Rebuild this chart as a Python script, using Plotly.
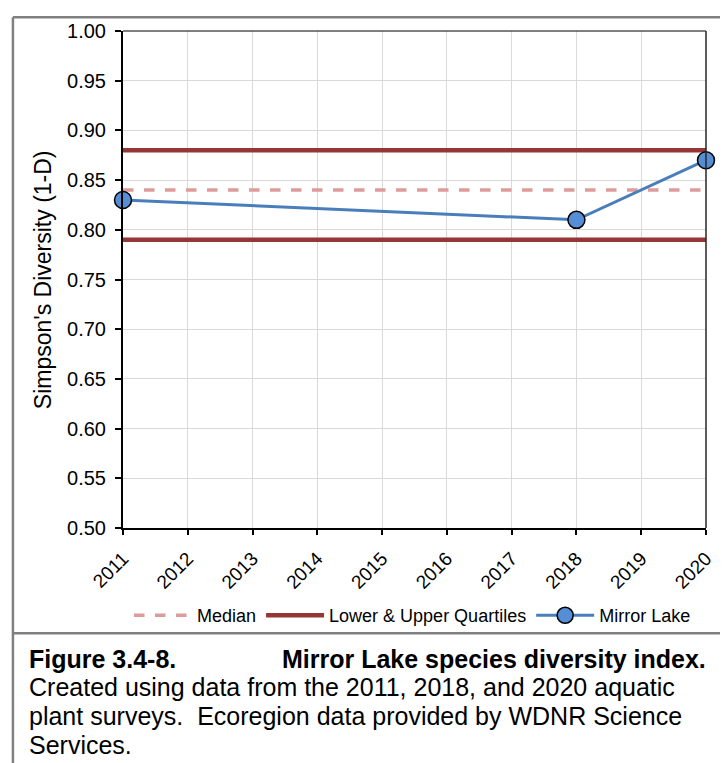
import plotly.graph_objects as go

# ---- data ----
years = [2011, 2012, 2013, 2014, 2015, 2016, 2017, 2018, 2019, 2020]
tick_labels = [str(y) for y in years]
lake_years = [2011, 2018, 2020]
lake_values = [0.83, 0.81, 0.87]
median_value = 0.84
lower_quartile = 0.79
upper_quartile = 0.88
y_ticks = [0.50, 0.55, 0.60, 0.65, 0.70, 0.75, 0.80, 0.85, 0.90, 0.95, 1.00]

FONT = "Liberation Sans, Arial, sans-serif"
OFF = 8  # page body margin
W, H = 728 - OFF, 763 - OFF
# plot area in screenshot pixels
SL, SR, ST, SB = 123, 711, 23, 528
PL, PR, PT, PB = SL - OFF, SR - OFF, ST - OFF, SB - OFF


def px(x):
    return (x - OFF - PL) / (PR - PL)


def py(y):
    return (PB - (y - OFF)) / (PB - PT)


fig = go.Figure()

fig.add_trace(go.Scatter(
    x=[years[0], years[-1]], y=[median_value, median_value], mode="lines",
    name="Median", line=dict(color="#dd9c9b", width=3.5, dash="dash"),
))
fig.add_trace(go.Scatter(
    x=[years[0], years[-1]], y=[lower_quartile, lower_quartile], mode="lines",
    name="Lower & Upper Quartiles", line=dict(color="#953735", width=4.5),
    legendgroup="q",
))
fig.add_trace(go.Scatter(
    x=[years[0], years[-1]], y=[upper_quartile, upper_quartile], mode="lines",
    name="Lower & Upper Quartiles", line=dict(color="#953735", width=4.5),
    legendgroup="q", showlegend=False,
))
fig.add_trace(go.Scatter(
    x=lake_years, y=lake_values, mode="lines+markers", name="Mirror Lake",
    line=dict(color="#4a7ebb", width=3),
    marker=dict(size=17, color="#558ed5", line=dict(color="black", width=1.5)),
    cliponaxis=False,
))

shapes = []
gray = "#808080"
# outer chart border and caption box
shapes.append(dict(type="line", xref="paper", yref="paper", x0=px(12), x1=px(740), y0=py(9), y1=py(9),
                   line=dict(color=gray, width=2.5)))
shapes.append(dict(type="line", xref="paper", yref="paper", x0=px(12), x1=px(12), y0=py(9), y1=py(775),
                   line=dict(color=gray, width=2.5)))
shapes.append(dict(type="line", xref="paper", yref="paper", x0=px(12), x1=px(740), y0=py(635), y1=py(635),
                   line=dict(color=gray, width=2.5)))
# top and right frame of plot area
shapes.append(dict(type="line", xref="paper", yref="paper", x0=0, x1=1, y0=1, y1=1,
                   line=dict(color="black", width=1)))
shapes.append(dict(type="line", xref="paper", yref="paper", x0=1, x1=1, y0=0, y1=1,
                   line=dict(color="#262626", width=1.5)))

annotations = []
annotations.append(dict(
    text="Simpson's Diversity (1-D)", textangle=-90, xref="paper", yref="paper",
    x=px(42), y=0.5, xanchor="center", yanchor="middle", showarrow=False,
    font=dict(family=FONT, size=23, color="black"),
))
cap_font = dict(family=FONT, size=25, color="black")
annotations.append(dict(text="<b>Figure 3.4-8.</b>", xref="paper", yref="paper", x=px(26), y=py(661),
                        xanchor="left", yanchor="middle", showarrow=False, font=cap_font))
annotations.append(dict(text="<b>Mirror Lake species diversity index.</b>", xref="paper", yref="paper",
                        x=px(713), y=py(661), xanchor="right", yanchor="middle", showarrow=False, font=cap_font))
annotations.append(dict(text="Created using data from the 2011, 2018, and 2020 aquatic", xref="paper", yref="paper",
                        x=px(26), y=py(690), xanchor="left", yanchor="middle", showarrow=False, font=cap_font))
annotations.append(dict(text="plant surveys.  Ecoregion data provided by WDNR Science", xref="paper", yref="paper",
                        x=px(26), y=py(719), xanchor="left", yanchor="middle", showarrow=False, font=cap_font))
annotations.append(dict(text="Services.", xref="paper", yref="paper",
                        x=px(26), y=py(748), xanchor="left", yanchor="middle", showarrow=False, font=cap_font))

fig.update_layout(
    width=W, height=H,
    margin=dict(l=PL, r=W - PR, t=PT, b=H - PB, pad=0),
    paper_bgcolor="white", plot_bgcolor="white",
    font=dict(family=FONT, color="black"),
    showlegend=True,
    legend=dict(orientation="h", x=px(415), y=py(617), xanchor="center", yanchor="middle",
                font=dict(family=FONT, size=18, color="black"), bgcolor="rgba(0,0,0,0)",
                itemwidth=58, tracegroupgap=0),
    shapes=shapes, annotations=annotations,
    xaxis=dict(range=[2011, 2020], tickmode="array", tickvals=years, ticktext=tick_labels,
               tickangle=-45, ticks="outside", ticklen=5, tickwidth=1.5, tickcolor="black",
               ticklabelstandoff=5,
               showgrid=True, gridcolor="#d9d9d9", gridwidth=1,
               showline=True, linecolor="black", linewidth=2, zeroline=False,
               tickfont=dict(family=FONT, size=19, color="black")),
    yaxis=dict(range=[0.5, 1.0], tickmode="array", tickvals=y_ticks,
               ticktext=[f"{v:.2f}" for v in y_ticks],
               ticks="outside", ticklen=6, tickwidth=1.5, tickcolor="black",
               ticklabelstandoff=5,
               showgrid=True, gridcolor="#d9d9d9", gridwidth=1,
               showline=True, linecolor="black", linewidth=2, zeroline=False,
               tickfont=dict(family=FONT, size=20, color="black")),
)

fig.write_html("out.html")
